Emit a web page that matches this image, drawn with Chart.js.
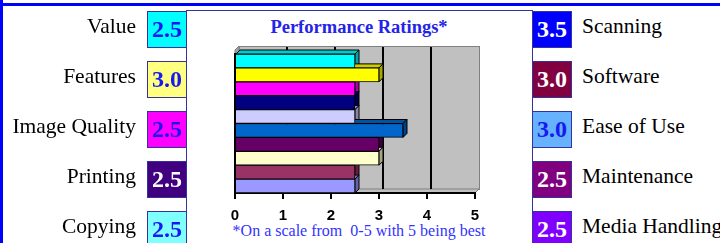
<!DOCTYPE html>
<html>
<head>
<meta charset="utf-8">
<script src="https://cdn.jsdelivr.net/npm/chart.js@4/dist/chart.umd.min.js"></script>
<style>
  body { margin: 0; width: 720px; height: 243px; overflow: hidden; background: #fff; position: relative; font-family: "Liberation Serif", "Times New Roman", serif; }
  .topline { position: absolute; left: 0; top: 3px; width: 720px; height: 3px; background: #0000FF; }
  .leftline { position: absolute; left: 0; top: 0; width: 3px; height: 243px; background: #0000FF; }
  .frame { position: absolute; left: 186px; top: 10px; width: 345px; height: 240px; border: 1px solid #333399; border-bottom: none; }
  .box { position: absolute; width: 38px; height: 35px; border: 1px solid #333399; font-weight: bold; font-size: 24px; text-align: center; line-height: 35px; }
  .lbl { position: absolute; font-size: 21.5px; color: #000; line-height: 24px; white-space: nowrap; }
  .title { position: absolute; left: 186px; width: 346px; top: 17px; text-align: center; font-weight: bold; font-size: 18.5px; color: #2424E8; }
  .note { position: absolute; left: 186px; width: 346px; top: 222px; text-align: center; font-size: 16px; color: #3333FF; white-space: pre; }
  #chart { position: absolute; left: 186px; top: 10px; }
</style>
</head>
<body>
<div class="topline"></div>
<div class="leftline"></div>
<div class="frame"></div>
<div class="title">Performance Ratings*</div>
<div class="note">*On a scale from  0-5 with 5 being best</div>
<canvas id="chart" width="346" height="233"></canvas>
<script>
// categories, in the order of the bars (top to bottom)
const categories = ["Value", "Features", "Image Quality", "Printing", "Copying",
                    "Scanning", "Software", "Ease of Use", "Maintenance", "Media Handling"];
const ratings = [2.5, 3.0, 2.5, 2.5, 2.5, 3.5, 3.0, 3.0, 2.5, 2.5];
const xTicks = [0, 1, 2, 3, 4, 5];

// styles
const barColors = ["#00FFFF", "#FFFF00", "#FF00FF", "#000080", "#CCCCFF",
                   "#0066CC", "#660066", "#FFFFCC", "#993366", "#9999FF"];
const boxColors = ["#00FFFF", "#FFFF80", "#FF00FF", "#400080", "#80FFFF",
                   "#0000FF", "#800040", "#66B2FF", "#800080", "#8000FF"];
const boxText = ["#1818F0", "#1818F0", "#1818F0", "#fff", "#1818F0",
                 "#fff", "#fff", "#1818F0", "#fff", "#fff"];

// side boxes + labels
categories.forEach((name, i) => {
  const left = i < 5;
  const row = i % 5;
  const box = document.createElement("div");
  box.className = "box";
  box.style.left = (left ? 147 : 532) + "px";
  box.style.top = (11 + row * 50) + "px";
  box.style.background = boxColors[i];
  box.style.color = boxText[i];
  box.textContent = ratings[i].toFixed(1);
  document.body.appendChild(box);

  const lbl = document.createElement("div");
  lbl.className = "lbl";
  lbl.style.top = (14 + row * 50) + "px";
  if (left) lbl.style.right = (720 - 136) + "px";
  else lbl.style.left = "582px";
  lbl.textContent = name;
  document.body.appendChild(lbl);
});

const depth = 4;

function shade(hex, f) {
  const n = parseInt(hex.slice(1), 16);
  const r = Math.round(((n >> 16) & 255) * f);
  const g = Math.round(((n >> 8) & 255) * f);
  const b = Math.round((n & 255) * f);
  return "rgb(" + r + "," + g + "," + b + ")";
}

function poly(ctx, pts, fill) {
  ctx.beginPath();
  ctx.moveTo(pts[0][0], pts[0][1]);
  for (let k = 1; k < pts.length; k++) ctx.lineTo(pts[k][0], pts[k][1]);
  ctx.closePath();
  ctx.fillStyle = fill;
  ctx.fill();
  ctx.stroke();
}

const wall3d = {
  id: "wall3d",
  beforeDraw(chart) {
    const { ctx, chartArea: a, scales: { x } } = chart;
    ctx.save();
    ctx.lineWidth = 1;
    ctx.strokeStyle = "#808080";
    // back wall
    ctx.fillStyle = "#C0C0C0";
    ctx.fillRect(a.left + depth, a.top - 8, a.right - a.left, a.bottom - a.top + 4);
    ctx.strokeRect(a.left + depth + 0.5, a.top - 7.5, a.right - a.left, a.bottom - a.top + 4);
    // floor
    poly(ctx, [[a.left, a.bottom], [a.left + depth, a.bottom - depth],
               [a.right + depth, a.bottom - depth], [a.right, a.bottom]], "#C0C0C0");
    // left wall
    poly(ctx, [[a.left, a.top - 4], [a.left + depth, a.top - 8],
               [a.left + depth, a.bottom - depth], [a.left, a.bottom]], "#A0A0A0");
    // grid lines on the back wall
    ctx.strokeStyle = "#000";
    ctx.lineWidth = 2;
    xTicks.forEach(v => {
      if (v === 0 || v === 5) return;
      const px = x.getPixelForValue(v) + depth;
      ctx.beginPath();
      ctx.moveTo(px, a.top - 7);
      ctx.lineTo(px, a.bottom - depth);
      ctx.stroke();
    });
    ctx.restore();
  },
  beforeDatasetsDraw(chart) {
    const { ctx } = chart;
    const meta = chart.getDatasetMeta(0);
    ctx.save();
    ctx.strokeStyle = "#000";
    ctx.lineWidth = 1;
    meta.data.forEach((bar, i) => {
      const p = bar.getProps(["x", "y", "base", "height"], true);
      const top = p.y - p.height / 2, bottom = p.y + p.height / 2;
      const x0 = p.base, x1 = p.x;
      poly(ctx, [[x0, top], [x0 + depth, top - depth], [x1 + depth, top - depth], [x1, top]], shade(barColors[i], 0.8));
      poly(ctx, [[x1, top], [x1 + depth, top - depth], [x1 + depth, bottom - depth], [x1, bottom]], shade(barColors[i], 0.65));
    });
    ctx.restore();
  }
};

new Chart(document.getElementById("chart"), {
  type: "bar",
  data: {
    labels: categories,
    datasets: [{
      data: ratings,
      backgroundColor: barColors,
      borderColor: "#000",
      borderWidth: 1,
      barPercentage: 1,
      categoryPercentage: 1
    }]
  },
  options: {
    indexAxis: "y",
    responsive: false,
    animation: false,
    events: [],
    layout: { padding: { left: 49, right: 57, top: 44, bottom: 10 } },
    plugins: { legend: { display: false }, tooltip: { enabled: false } },
    scales: {
      x: {
        min: 0,
        max: 5,
        afterFit: s => { s.height = 40; },
        afterBuildTicks: s => { s.ticks = xTicks.map(v => ({ value: v })); },
        ticks: {
          color: "#000",
          padding: 8,
          font: { family: "Liberation Sans", size: 15, weight: "bold" }
        },
        grid: { display: true, drawOnChartArea: false, drawTicks: true, tickLength: 6, color: "#000", lineWidth: 2 },
        border: { display: true, color: "#000", width: 2 }
      },
      y: {
        afterFit: s => { s.width = 0; },
        ticks: { display: false },
        grid: { display: false },
        border: { display: true, color: "#000", width: 2 }
      }
    }
  },
  plugins: [wall3d]
});
</script>
</body>
</html>
